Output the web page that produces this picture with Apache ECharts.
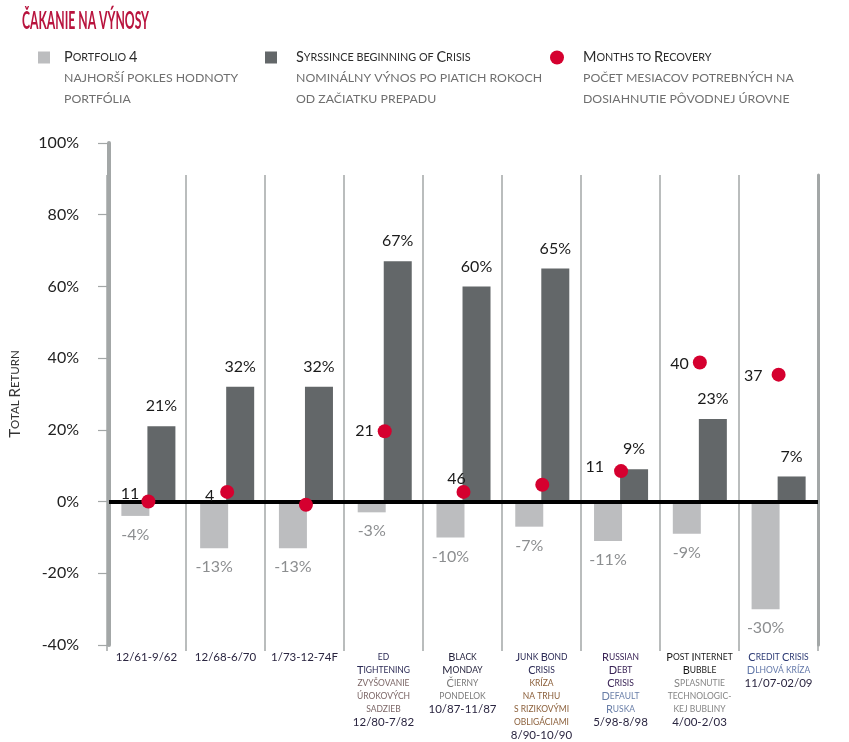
<!DOCTYPE html>
<html>
<head>
<meta charset="utf-8">
<script src="https://cdn.jsdelivr.net/npm/echarts@6/dist/echarts.min.js"></script>
<style>html,body{margin:0;padding:0;background:#fff}#c{width:849px;height:742px}</style>
</head>
<body>
<div id="c"></div>
<script>
// ---------- data ----------
const categories = ['12/61-9/62', '12/68-6/70', '1/73-12-74F', '12/80-7/82', '10/87-11/87', '8/90-10/90', '5/98-8/98', '4/00-2/03', '11/07-02/09'];
const catEnglish = ['', '', '', 'ed\nTightening', 'Black\nMonday', 'Junk Bond\nCrisis', 'Russian\nDebt\nCrisis', 'Post Internet\nBubble', 'Credit Crisis'];
const catSlovak = ['', '', '', 'zvyšovanie\núrokových\nsadzieb', 'Čierny\npondelok', 'kríza\nna trhu\ns rizikovými\nobligáciami', 'Default\nRuska', 'Spľasnutie\ntechnologic-\nkej bubliny', 'Dlhová kríza'];
const portfolioWorst = [-4, -13, -13, -3, -10, -7, -11, -9, -30];
const crisisReturn = [21, 32, 32, 67, 60, 65, 9, 23, 7];
const recoveryDotY = [0, 2.7, -0.9, 19.6, 2.7, 4.7, 8.5, 38.8, 35.4];
const recoveryMonths = ['11', '4', '', '21', '46', '', '11', '40', '37'];
const yTicks = { min: -40, max: 100, interval: 20 };
const seriesNames = ['Portfolio 4', 'Syrssince beginning of Crisis', 'Months to Recovery'];
const legendSub = [
  ['najhorší pokles hodnoty', 'portfólia'],
  ['nominálny výnos po piatich rokoch', 'od začiatku prepadu'],
  ['počet mesiacov potrebných na', 'dosiahnutie pôvodnej úrovne']
];
const titleText = 'ČAKANIE NA VÝNOSY';
const axisTitle = 'Total Return';

// ---------- styling ----------
const FONT = 'Lato, "Open Sans", "Noto Sans", sans-serif';
const LIGHT = '#bcbdbf', DARK = '#636769', RED = '#d5002f', GRID = '#a3a7a7';
const enColors = ['#2a2540', '#2a2540', '#2a2540', '#2b2a55', '#1f1d38', '#2b2a55', '#3a2456', '#1a1a1a', '#2c3a74'];
const skColors = ['#777', '#777', '#777', '#7d6868', '#7a7a7a', '#8b5f3a', '#6a7fa8', '#858585', '#6378a9'];
const monthLabelPos = [
  ['left', 2, [0, -8]], ['left', 6, [0, 4]], null, ['left', 4, [0, 0]],
  ['top', 1, [-7, 3]], null, ['left', 10, [0, -4]], ['left', 4, [0, 1]], ['left', 9, [0, 1]]
];

function sc(text, bigKey, smallKey, numKey) {
  let out = '', cur = null, buf = '';
  const flush = () => { if (buf) out += '{' + cur + '|' + buf + '}'; buf = ''; };
  for (const ch of text) {
    if (ch === '\n') { flush(); cur = null; out += '\n'; continue; }
    const up = ch.toUpperCase(), low = ch.toLowerCase();
    let k;
    if (up !== low) k = (ch === up) ? bigKey : smallKey;
    else if (/[0-9]/.test(ch)) k = numKey || bigKey;
    else k = cur || smallKey;
    if (k !== cur) { flush(); cur = k; }
    buf += up;
  }
  flush();
  return out;
}

const catRich = {};
categories.forEach((c, i) => {
  catRich['e' + i + 'b'] = { fontFamily: FONT, fontSize: 11, color: enColors[i], lineHeight: 13 };
  catRich['e' + i + 's'] = { fontFamily: FONT, fontSize: 8.5, color: enColors[i], lineHeight: 13 };
  catRich['k' + i + 'b'] = { fontFamily: FONT, fontSize: 11, color: skColors[i], lineHeight: 13 };
  catRich['k' + i + 's'] = { fontFamily: FONT, fontSize: 8.5, color: skColors[i], lineHeight: 13 };
});
catRich.d = { fontFamily: FONT, fontSize: 11.5, color: '#2a2540', lineHeight: 13 };

function catLabel(value, idx) {
  const parts = [];
  if (catEnglish[idx]) parts.push(sc(catEnglish[idx], 'e' + idx + 'b', 'e' + idx + 's'));
  if (catSlovak[idx]) parts.push(sc(catSlovak[idx], 'k' + idx + 'b', 'k' + idx + 's'));
  parts.push('{d|' + value + '}');
  return parts.join('\n');
}

const TITLE_SIZE = 24;
const mctx = document.createElement('canvas').getContext('2d');
mctx.font = 'bold ' + TITLE_SIZE + 'px Lato';
const titleScale = 127 / mctx.measureText(titleText).width;

const legendRich = {
  b: { fontFamily: FONT, fontSize: 14.5, color: '#2b2b2b' },
  s: { fontFamily: FONT, fontSize: 10.8, color: '#2b2b2b' }
};
function mkLegend(i, left, icon, w, h, gap) {
  return {
    left: left, top: 50, padding: 0, icon: icon, itemWidth: w, itemHeight: h,
    data: [seriesNames[i]], selectedMode: false,
    formatter: n => sc(n, 'b', 's'),
    textStyle: { padding: [0, 0, 0, gap], rich: legendRich }
  };
}

const graphics = [{
  type: 'text', x: 22, y: 9, scaleX: titleScale,
  style: { text: titleText, fontSize: TITLE_SIZE, fontWeight: 'bold', fontFamily: 'Lato', fill: '#b8133d', textVerticalAlign: 'top' }
}];
const subX = [64, 296, 583];
legendSub.forEach((lines, i) => {
  lines.forEach((ln, j) => {
    graphics.push({
      type: 'text', x: subX[i], y: 78 + j * 21,
      style: { text: ln.toUpperCase(), fontSize: 12.3, fontFamily: 'Lato', fill: '#6f6f6f', textVerticalAlign: 'middle' }
    });
  });
});

const chart = echarts.init(document.getElementById('c'), null, { renderer: 'canvas' });
chart.setOption({
  animation: false,
  backgroundColor: '#fff',
  textStyle: { fontFamily: FONT },
  graphic: graphics,
  legend: [
    mkLegend(0, 38, 'rect', 12, 12, 9),
    mkLegend(1, 265, 'rect', 12, 12, 14),
    mkLegend(2, 550, 'circle', 14, 14, 14)
  ],
  grid: [
    { left: 107, right: 31, top: 143, bottom: 97 },
    { left: 107, right: 31, top: 175, bottom: 97 }
  ],
  xAxis: [
    { gridIndex: 0, type: 'category', data: categories, show: false },
    {
      gridIndex: 1, type: 'category', data: categories,
      axisLine: { show: false },
      axisTick: { show: true, length: 6, interval: 0, lineStyle: { color: GRID, width: 1.5 } },
      splitLine: { show: true, interval: 0, lineStyle: { color: GRID, width: 1.5 } },
      axisLabel: { interval: 0, margin: 6, formatter: catLabel, rich: catRich, verticalAlign: 'top', hideOverlap: false }
    }
  ],
  yAxis: [
    {
      gridIndex: 0, type: 'value', min: yTicks.min, max: yTicks.max, interval: yTicks.interval,
      name: sc(axisTitle, 'b', 's'), nameLocation: 'middle', nameGap: 86, nameRotate: 90,
      nameTextStyle: { rich: { b: { fontFamily: FONT, fontSize: 15, color: '#333' }, s: { fontFamily: FONT, fontSize: 11.5, color: '#333' } } },
      axisLine: { show: true, lineStyle: { color: GRID, width: 4 } },
      axisTick: { show: true, length: 11, lineStyle: { color: GRID, width: 1.2 } },
      splitLine: { show: false },
      axisLabel: { formatter: '{value}%', margin: 30, fontFamily: FONT, fontSize: 16, color: '#222' }
    },
    {
      gridIndex: 1, type: 'value', min: 0, max: 1, position: 'right',
      axisLine: { show: true, lineStyle: { color: GRID, width: 3 } },
      axisTick: { show: false }, axisLabel: { show: false }, splitLine: { show: false }
    }
  ],
  series: [
    {
      name: seriesNames[0], type: 'bar', xAxisIndex: 0, yAxisIndex: 0,
      data: portfolioWorst, barWidth: 28, barGap: '-7%',
      itemStyle: { color: LIGHT },
      label: { show: true, position: 'bottom', distance: 11, formatter: p => p.value + '%', color: '#8c8e90', fontSize: 16, fontFamily: FONT }
    },
    {
      name: seriesNames[1], type: 'bar', xAxisIndex: 0, yAxisIndex: 0,
      data: crisisReturn, barWidth: 28,
      itemStyle: { color: DARK },
      label: { show: true, position: 'top', distance: 12, formatter: p => p.value + '%', color: '#1a1a1a', fontSize: 16, fontFamily: FONT },
      markLine: {
        silent: true, symbol: 'none', label: { show: false },
        lineStyle: { color: '#000', width: 4, type: 'solid' },
        data: [{ yAxis: 0 }]
      }
    },
    {
      name: seriesNames[2], type: 'scatter', xAxisIndex: 0, yAxisIndex: 0, z: 5,
      symbolSize: 14, itemStyle: { color: RED, opacity: 1 },
      data: recoveryDotY.map((v, i) => {
        const pos = monthLabelPos[i];
        return {
          value: v,
          label: pos ? { show: true, formatter: recoveryMonths[i], position: pos[0], distance: pos[1], offset: pos[2], color: '#1a1a1a', fontSize: 16, fontFamily: FONT } : { show: false }
        };
      })
    }
  ]
});
</script>
</body>
</html>
